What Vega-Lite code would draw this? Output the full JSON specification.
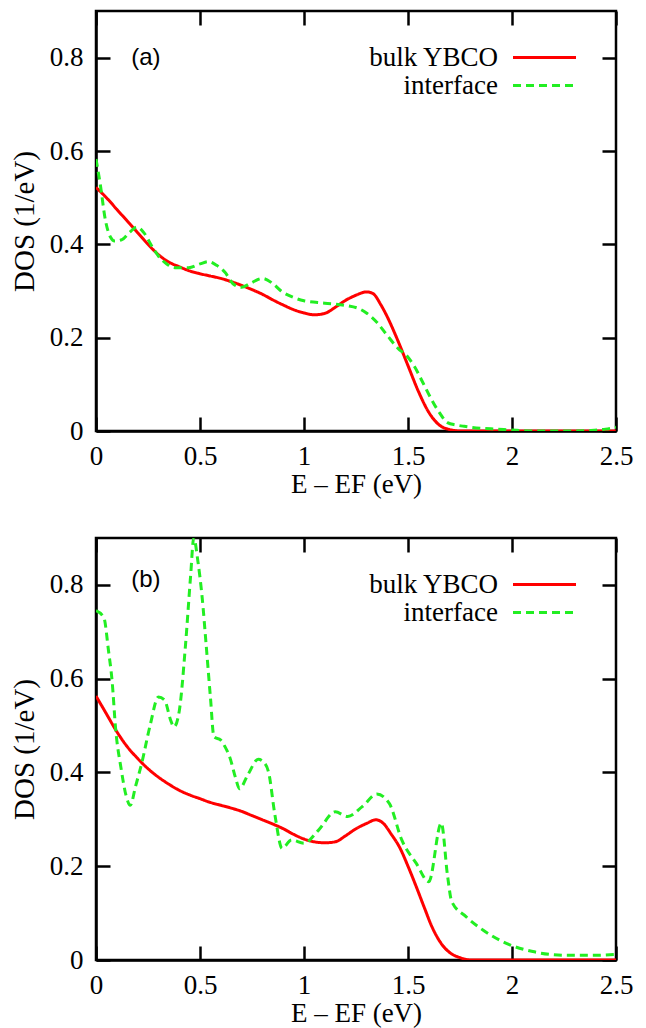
{
  "$schema": "https://vega.github.io/schema/vega-lite/v6.json",
  "padding": {"left": 9, "top": 8, "right": 5, "bottom": 0},
  "spacing": 36,
  "background": "white",
  "config": {
    "view": {"stroke": "black", "strokeWidth": 2.5},
    "axis": {
      "domainColor": "black", "domainWidth": 2.5,
      "tickColor": "black", "tickWidth": 2.5, "tickSize": -14,
      "labelFont": "Liberation Serif", "labelFontSize": 27, "labelColor": "black", "labelFlush": false,
      "titleFont": "Liberation Serif", "titleFontSize": 27, "titleColor": "black", "titleFontWeight": "normal",
      "grid": false, "zindex": 1
    },
    "legend": {
      "title": null, "orient": "none", "legendX": 435, "legendY": 33,
      "symbolType": "M-3,0H3", "symbolSize": 441, "symbolStrokeWidth": 3,
      "labelFont": "Liberation Serif", "labelFontSize": 27, "labelColor": "black",
      "labelAlign": "right", "labelOffset": -60, "rowPadding": 0, "labelLimit": 300
    }
  },
  "datasets": {
    "a": [
      {"E": 0, "DOS": 0.522, "series": "bulk YBCO"},
      {"E": 0.05, "DOS": 0.5, "series": "bulk YBCO"},
      {"E": 0.1, "DOS": 0.475, "series": "bulk YBCO"},
      {"E": 0.15, "DOS": 0.45, "series": "bulk YBCO"},
      {"E": 0.2, "DOS": 0.425, "series": "bulk YBCO"},
      {"E": 0.25, "DOS": 0.4, "series": "bulk YBCO"},
      {"E": 0.3, "DOS": 0.378, "series": "bulk YBCO"},
      {"E": 0.35, "DOS": 0.362, "series": "bulk YBCO"},
      {"E": 0.4, "DOS": 0.352, "series": "bulk YBCO"},
      {"E": 0.45, "DOS": 0.343, "series": "bulk YBCO"},
      {"E": 0.5, "DOS": 0.337, "series": "bulk YBCO"},
      {"E": 0.55, "DOS": 0.332, "series": "bulk YBCO"},
      {"E": 0.6, "DOS": 0.327, "series": "bulk YBCO"},
      {"E": 0.65, "DOS": 0.32, "series": "bulk YBCO"},
      {"E": 0.7, "DOS": 0.312, "series": "bulk YBCO"},
      {"E": 0.75, "DOS": 0.303, "series": "bulk YBCO"},
      {"E": 0.8, "DOS": 0.293, "series": "bulk YBCO"},
      {"E": 0.85, "DOS": 0.281, "series": "bulk YBCO"},
      {"E": 0.9, "DOS": 0.27, "series": "bulk YBCO"},
      {"E": 0.95, "DOS": 0.26, "series": "bulk YBCO"},
      {"E": 1.0, "DOS": 0.253, "series": "bulk YBCO"},
      {"E": 1.05, "DOS": 0.249, "series": "bulk YBCO"},
      {"E": 1.1, "DOS": 0.252, "series": "bulk YBCO"},
      {"E": 1.15, "DOS": 0.265, "series": "bulk YBCO"},
      {"E": 1.2, "DOS": 0.28, "series": "bulk YBCO"},
      {"E": 1.25, "DOS": 0.291, "series": "bulk YBCO"},
      {"E": 1.3, "DOS": 0.298, "series": "bulk YBCO"},
      {"E": 1.33, "DOS": 0.295, "series": "bulk YBCO"},
      {"E": 1.37, "DOS": 0.27, "series": "bulk YBCO"},
      {"E": 1.4, "DOS": 0.245, "series": "bulk YBCO"},
      {"E": 1.45, "DOS": 0.195, "series": "bulk YBCO"},
      {"E": 1.5, "DOS": 0.14, "series": "bulk YBCO"},
      {"E": 1.55, "DOS": 0.085, "series": "bulk YBCO"},
      {"E": 1.6, "DOS": 0.04, "series": "bulk YBCO"},
      {"E": 1.65, "DOS": 0.013, "series": "bulk YBCO"},
      {"E": 1.7, "DOS": 0.003, "series": "bulk YBCO"},
      {"E": 1.75, "DOS": 0, "series": "bulk YBCO"},
      {"E": 2.0, "DOS": 0, "series": "bulk YBCO"},
      {"E": 2.5, "DOS": 0, "series": "bulk YBCO"},
      {"E": 0, "DOS": 0.583, "series": "interface"},
      {"E": 0.02, "DOS": 0.53, "series": "interface"},
      {"E": 0.046, "DOS": 0.45, "series": "interface"},
      {"E": 0.07, "DOS": 0.415, "series": "interface"},
      {"E": 0.09, "DOS": 0.407, "series": "interface"},
      {"E": 0.125, "DOS": 0.41, "series": "interface"},
      {"E": 0.16, "DOS": 0.425, "series": "interface"},
      {"E": 0.197, "DOS": 0.437, "series": "interface"},
      {"E": 0.23, "DOS": 0.425, "series": "interface"},
      {"E": 0.27, "DOS": 0.395, "series": "interface"},
      {"E": 0.3, "DOS": 0.375, "series": "interface"},
      {"E": 0.34, "DOS": 0.358, "series": "interface"},
      {"E": 0.38, "DOS": 0.35, "series": "interface"},
      {"E": 0.445, "DOS": 0.35, "series": "interface"},
      {"E": 0.5, "DOS": 0.358, "series": "interface"},
      {"E": 0.54, "DOS": 0.363, "series": "interface"},
      {"E": 0.58, "DOS": 0.355, "series": "interface"},
      {"E": 0.62, "DOS": 0.34, "series": "interface"},
      {"E": 0.66, "DOS": 0.315, "series": "interface"},
      {"E": 0.7, "DOS": 0.308, "series": "interface"},
      {"E": 0.74, "DOS": 0.316, "series": "interface"},
      {"E": 0.8, "DOS": 0.327, "series": "interface"},
      {"E": 0.85, "DOS": 0.316, "series": "interface"},
      {"E": 0.89, "DOS": 0.3, "series": "interface"},
      {"E": 0.95, "DOS": 0.286, "series": "interface"},
      {"E": 1.0, "DOS": 0.279, "series": "interface"},
      {"E": 1.1, "DOS": 0.274, "series": "interface"},
      {"E": 1.2, "DOS": 0.269, "series": "interface"},
      {"E": 1.27, "DOS": 0.261, "series": "interface"},
      {"E": 1.3, "DOS": 0.253, "series": "interface"},
      {"E": 1.35, "DOS": 0.233, "series": "interface"},
      {"E": 1.4, "DOS": 0.205, "series": "interface"},
      {"E": 1.45, "DOS": 0.178, "series": "interface"},
      {"E": 1.5, "DOS": 0.158, "series": "interface"},
      {"E": 1.53, "DOS": 0.139, "series": "interface"},
      {"E": 1.57, "DOS": 0.105, "series": "interface"},
      {"E": 1.61, "DOS": 0.07, "series": "interface"},
      {"E": 1.65, "DOS": 0.04, "series": "interface"},
      {"E": 1.69, "DOS": 0.018, "series": "interface"},
      {"E": 1.73, "DOS": 0.013, "series": "interface"},
      {"E": 1.77, "DOS": 0.01, "series": "interface"},
      {"E": 1.85, "DOS": 0.006, "series": "interface"},
      {"E": 1.93, "DOS": 0.004, "series": "interface"},
      {"E": 2.0, "DOS": 0.002, "series": "interface"},
      {"E": 2.1, "DOS": 0.0, "series": "interface"},
      {"E": 2.3, "DOS": 0.0, "series": "interface"},
      {"E": 2.38, "DOS": 0.001, "series": "interface"},
      {"E": 2.45, "DOS": 0.004, "series": "interface"},
      {"E": 2.5, "DOS": 0.008, "series": "interface"}
    ],
    "b": [
      {"E": 0, "DOS": 0.563, "series": "bulk YBCO"},
      {"E": 0.05, "DOS": 0.525, "series": "bulk YBCO"},
      {"E": 0.1, "DOS": 0.487, "series": "bulk YBCO"},
      {"E": 0.15, "DOS": 0.455, "series": "bulk YBCO"},
      {"E": 0.2, "DOS": 0.43, "series": "bulk YBCO"},
      {"E": 0.25, "DOS": 0.408, "series": "bulk YBCO"},
      {"E": 0.3, "DOS": 0.39, "series": "bulk YBCO"},
      {"E": 0.35, "DOS": 0.375, "series": "bulk YBCO"},
      {"E": 0.4, "DOS": 0.362, "series": "bulk YBCO"},
      {"E": 0.45, "DOS": 0.352, "series": "bulk YBCO"},
      {"E": 0.5, "DOS": 0.344, "series": "bulk YBCO"},
      {"E": 0.55, "DOS": 0.336, "series": "bulk YBCO"},
      {"E": 0.6, "DOS": 0.33, "series": "bulk YBCO"},
      {"E": 0.65, "DOS": 0.324, "series": "bulk YBCO"},
      {"E": 0.7, "DOS": 0.317, "series": "bulk YBCO"},
      {"E": 0.75, "DOS": 0.308, "series": "bulk YBCO"},
      {"E": 0.8, "DOS": 0.299, "series": "bulk YBCO"},
      {"E": 0.85, "DOS": 0.29, "series": "bulk YBCO"},
      {"E": 0.9, "DOS": 0.28, "series": "bulk YBCO"},
      {"E": 0.95, "DOS": 0.268, "series": "bulk YBCO"},
      {"E": 1.0, "DOS": 0.258, "series": "bulk YBCO"},
      {"E": 1.05, "DOS": 0.252, "series": "bulk YBCO"},
      {"E": 1.1, "DOS": 0.25, "series": "bulk YBCO"},
      {"E": 1.15, "DOS": 0.252, "series": "bulk YBCO"},
      {"E": 1.2, "DOS": 0.265, "series": "bulk YBCO"},
      {"E": 1.25, "DOS": 0.28, "series": "bulk YBCO"},
      {"E": 1.3, "DOS": 0.291, "series": "bulk YBCO"},
      {"E": 1.345, "DOS": 0.299, "series": "bulk YBCO"},
      {"E": 1.38, "DOS": 0.292, "series": "bulk YBCO"},
      {"E": 1.42, "DOS": 0.268, "series": "bulk YBCO"},
      {"E": 1.46, "DOS": 0.24, "series": "bulk YBCO"},
      {"E": 1.5, "DOS": 0.2, "series": "bulk YBCO"},
      {"E": 1.54, "DOS": 0.156, "series": "bulk YBCO"},
      {"E": 1.58, "DOS": 0.11, "series": "bulk YBCO"},
      {"E": 1.615, "DOS": 0.071, "series": "bulk YBCO"},
      {"E": 1.66, "DOS": 0.035, "series": "bulk YBCO"},
      {"E": 1.7, "DOS": 0.016, "series": "bulk YBCO"},
      {"E": 1.75, "DOS": 0.005, "series": "bulk YBCO"},
      {"E": 1.8, "DOS": 0, "series": "bulk YBCO"},
      {"E": 2.5, "DOS": 0, "series": "bulk YBCO"},
      {"E": 0, "DOS": 0.745, "series": "interface"},
      {"E": 0.038, "DOS": 0.73, "series": "interface"},
      {"E": 0.06, "DOS": 0.66, "series": "interface"},
      {"E": 0.077, "DOS": 0.597, "series": "interface"},
      {"E": 0.095, "DOS": 0.49, "series": "interface"},
      {"E": 0.12, "DOS": 0.41, "series": "interface"},
      {"E": 0.145, "DOS": 0.35, "series": "interface"},
      {"E": 0.165, "DOS": 0.33, "series": "interface"},
      {"E": 0.19, "DOS": 0.37, "series": "interface"},
      {"E": 0.22, "DOS": 0.42, "series": "interface"},
      {"E": 0.26, "DOS": 0.5, "series": "interface"},
      {"E": 0.3, "DOS": 0.561, "series": "interface"},
      {"E": 0.33, "DOS": 0.554, "series": "interface"},
      {"E": 0.36, "DOS": 0.51, "series": "interface"},
      {"E": 0.375, "DOS": 0.497, "series": "interface"},
      {"E": 0.4, "DOS": 0.53, "series": "interface"},
      {"E": 0.43, "DOS": 0.67, "series": "interface"},
      {"E": 0.455, "DOS": 0.82, "series": "interface"},
      {"E": 0.47, "DOS": 0.9, "series": "interface"},
      {"E": 0.49, "DOS": 0.85, "series": "interface"},
      {"E": 0.51, "DOS": 0.775, "series": "interface"},
      {"E": 0.53, "DOS": 0.67, "series": "interface"},
      {"E": 0.55, "DOS": 0.561, "series": "interface"},
      {"E": 0.567, "DOS": 0.476, "series": "interface"},
      {"E": 0.6, "DOS": 0.469, "series": "interface"},
      {"E": 0.62, "DOS": 0.455, "series": "interface"},
      {"E": 0.645, "DOS": 0.43, "series": "interface"},
      {"E": 0.67, "DOS": 0.39, "series": "interface"},
      {"E": 0.69, "DOS": 0.365, "series": "interface"},
      {"E": 0.73, "DOS": 0.395, "series": "interface"},
      {"E": 0.78, "DOS": 0.428, "series": "interface"},
      {"E": 0.81, "DOS": 0.42, "series": "interface"},
      {"E": 0.83, "DOS": 0.4, "series": "interface"},
      {"E": 0.86, "DOS": 0.31, "series": "interface"},
      {"E": 0.895, "DOS": 0.238, "series": "interface"},
      {"E": 0.94, "DOS": 0.256, "series": "interface"},
      {"E": 1.0, "DOS": 0.249, "series": "interface"},
      {"E": 1.07, "DOS": 0.277, "series": "interface"},
      {"E": 1.15, "DOS": 0.316, "series": "interface"},
      {"E": 1.21, "DOS": 0.306, "series": "interface"},
      {"E": 1.28, "DOS": 0.327, "series": "interface"},
      {"E": 1.35, "DOS": 0.354, "series": "interface"},
      {"E": 1.41, "DOS": 0.334, "series": "interface"},
      {"E": 1.47, "DOS": 0.256, "series": "interface"},
      {"E": 1.54, "DOS": 0.206, "series": "interface"},
      {"E": 1.6, "DOS": 0.167, "series": "interface"},
      {"E": 1.66, "DOS": 0.292, "series": "interface"},
      {"E": 1.69, "DOS": 0.18, "series": "interface"},
      {"E": 1.71, "DOS": 0.125, "series": "interface"},
      {"E": 1.78, "DOS": 0.092, "series": "interface"},
      {"E": 1.86, "DOS": 0.064, "series": "interface"},
      {"E": 1.97, "DOS": 0.036, "series": "interface"},
      {"E": 2.1, "DOS": 0.018, "series": "interface"},
      {"E": 2.26, "DOS": 0.01, "series": "interface"},
      {"E": 2.4, "DOS": 0.01, "series": "interface"},
      {"E": 2.5, "DOS": 0.012, "series": "interface"}
    ]
  },
  "vconcat": [
    {
      "width": 520, "height": 420,
      "layer": [
        {
          "data": {"name": "a"},
          "mark": {"type": "line", "strokeWidth": 3, "interpolate": "monotone", "clip": true},
          "encoding": {
            "x": {"field": "E", "type": "quantitative", "scale": {"domain": [0, 2.5], "nice": false, "zero": false},
                  "axis": {"orient": "bottom", "values": [0, 0.5, 1, 1.5, 2, 2.5], "format": "~g", "labelPadding": 26, "title": "E – EF (eV)", "titlePadding": 2}},
            "y": {"field": "DOS", "type": "quantitative", "scale": {"domain": [0, 0.9], "nice": false},
                  "axis": {"orient": "left", "values": [0, 0.2, 0.4, 0.6, 0.8], "format": "~g", "labelPadding": 27, "title": "DOS (1/eV)", "titleFontSize": 29, "titlePadding": 10}},
            "color": {"field": "series", "type": "nominal", "scale": {"domain": ["bulk YBCO", "interface"], "range": ["#ff0000", "#22ee22"]}},
            "strokeDash": {"field": "series", "type": "nominal", "scale": {"domain": ["bulk YBCO", "interface"], "range": [[1, 0], [8, 5]]}}
          }
        },
        {
          "data": {"values": [{"label": "(a)"}]},
          "mark": {"type": "text", "font": "Liberation Sans", "fontSize": 24, "align": "center", "baseline": "middle", "color": "black"},
          "encoding": {
            "x": {"datum": 0.24, "type": "quantitative", "axis": {"orient": "top", "values": [0, 0.5, 1, 1.5, 2, 2.5], "labels": false, "domain": false, "title": null}},
            "y": {"datum": 0.8, "type": "quantitative", "axis": {"orient": "right", "values": [0, 0.2, 0.4, 0.6, 0.8], "labels": false, "domain": false, "title": null}},
            "text": {"field": "label"}
          }
        }
      ],
      "resolve": {"axis": {"x": "independent", "y": "independent"}}
    },
    {
      "width": 520, "height": 422,
      "layer": [
        {
          "data": {"name": "b"},
          "mark": {"type": "line", "strokeWidth": 3, "interpolate": "monotone", "clip": true},
          "encoding": {
            "x": {"field": "E", "type": "quantitative", "scale": {"domain": [0, 2.5], "nice": false, "zero": false},
                  "axis": {"orient": "bottom", "values": [0, 0.5, 1, 1.5, 2, 2.5], "format": "~g", "labelPadding": 26, "title": "E – EF (eV)", "titlePadding": 2}},
            "y": {"field": "DOS", "type": "quantitative", "scale": {"domain": [0, 0.9], "nice": false},
                  "axis": {"orient": "left", "values": [0, 0.2, 0.4, 0.6, 0.8], "format": "~g", "labelPadding": 27, "title": "DOS (1/eV)", "titleFontSize": 29, "titlePadding": 10}},
            "color": {"field": "series", "type": "nominal", "scale": {"domain": ["bulk YBCO", "interface"], "range": ["#ff0000", "#22ee22"]}},
            "strokeDash": {"field": "series", "type": "nominal", "scale": {"domain": ["bulk YBCO", "interface"], "range": [[1, 0], [8, 5]]}}
          }
        },
        {
          "data": {"values": [{"label": "(b)"}]},
          "mark": {"type": "text", "font": "Liberation Sans", "fontSize": 24, "align": "center", "baseline": "middle", "color": "black"},
          "encoding": {
            "x": {"datum": 0.24, "type": "quantitative", "axis": {"orient": "top", "values": [0, 0.5, 1, 1.5, 2, 2.5], "labels": false, "domain": false, "title": null}},
            "y": {"datum": 0.81, "type": "quantitative", "axis": {"orient": "right", "values": [0, 0.2, 0.4, 0.6, 0.8], "labels": false, "domain": false, "title": null}},
            "text": {"field": "label"}
          }
        }
      ],
      "resolve": {"axis": {"x": "independent", "y": "independent"}}
    }
  ],
  "resolve": {"scale": {"color": "independent", "strokeDash": "independent"}, "legend": {"color": "independent", "strokeDash": "independent"}}
}
